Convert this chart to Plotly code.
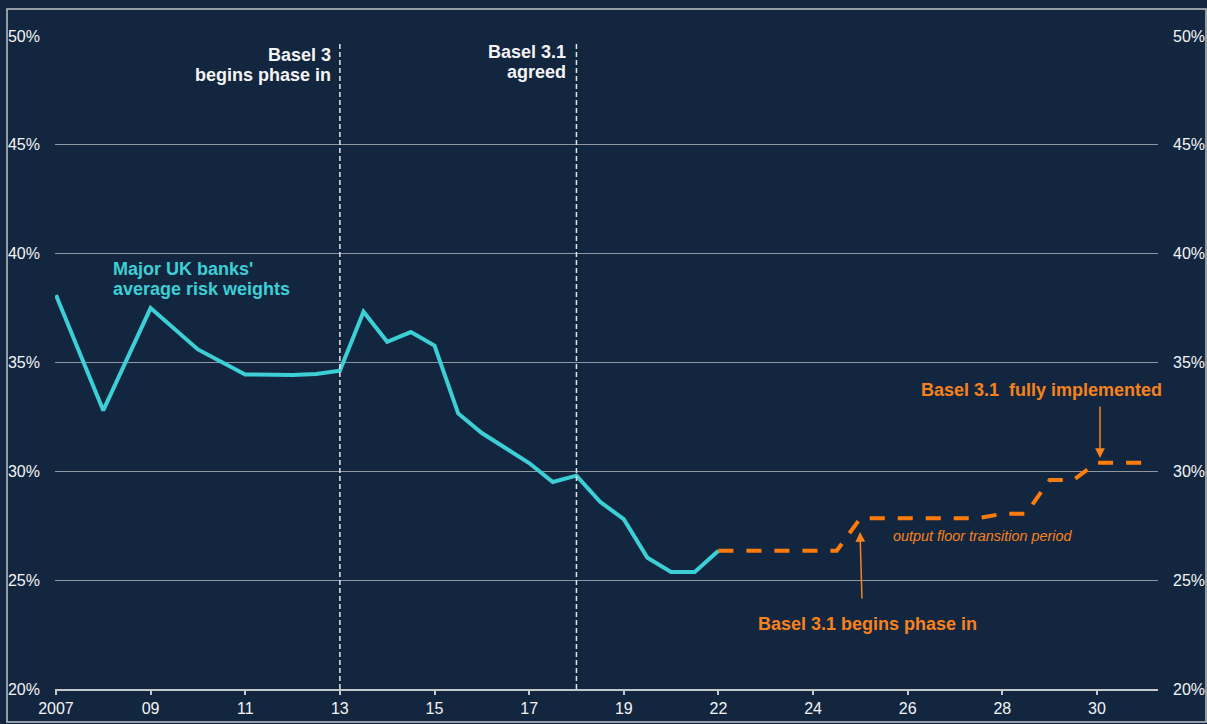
import plotly.graph_objects as go

# ---- data (x in chart-axis years; the axis compresses 2019-2022) ----
tick_vals = [2007, 2009, 2011, 2013, 2015, 2017, 2019, 2021, 2023, 2025, 2027, 2029]
tick_text = ["2007", "09", "11", "13", "15", "17", "19", "22", "24", "26", "28", "30"]

rw_x = [2007, 2008, 2009, 2010, 2011, 2012, 2012.5, 2013, 2013.5, 2014, 2014.5, 2015,
        2015.5, 2016, 2016.5, 2017, 2017.5, 2018, 2018.5, 2019, 2019.5, 2020, 2020.5, 2021]
rw_y = [38.1, 32.8, 37.5, 35.6, 34.45, 34.42, 34.47, 34.62, 37.33, 35.95, 36.4, 35.78,
        32.66, 31.76, 31.07, 30.38, 29.51, 29.8, 28.6, 27.8, 26.03, 25.38, 25.38, 26.35]

proj_x = [2021, 2021.5, 2022, 2022.5, 2023, 2023.5, 2024, 2024.5, 2025, 2025.5, 2026,
          2026.5, 2027, 2027.5, 2028, 2028.5, 2029, 2029.5, 2030]
proj_y = [26.35, 26.35, 26.35, 26.35, 26.35, 26.35, 27.85, 27.85, 27.85, 27.85, 27.85,
          27.85, 28.05, 28.05, 29.6, 29.6, 30.4, 30.4, 30.4]

event_x = [2013, 2018]
y_ticks = [20, 25, 30, 35, 40, 45, 50]
y_text = ["%d%%" % v for v in y_ticks]

BG = "#132640"
CYAN = "#3ccfd5"
ORANGE = "#ff7c0a"
ORANGE_TXT = "#f7821c"
WHITE = "#f4f4f4"
GRID = "#8f98a2"
AXIS = "#c4c8cc"
FONT = "Liberation Sans, Arial, sans-serif"

# layout geometry
W, H = 1207, 724
ML, MR, MT, MB = 55, 49, 36, 35
XR = [2006.98, 2030.29]
YR = [20, 50]
pw = W - ML - MR
ph = H - MT - MB


def dx(px):
    return XR[0] + (px - ML) / pw * (XR[1] - XR[0])


def dy(py):
    return YR[0] + (H - MB - py) / ph * (YR[1] - YR[0])


def paper_x(px):
    return (px - ML) / pw


def paper_y(py):
    return (H - MB - py) / ph


fig = go.Figure()
fig.add_trace(go.Scatter(x=rw_x, y=rw_y, mode="lines",
                         line=dict(color=CYAN, width=4), hoverinfo="skip",
                         showlegend=False))
fig.add_trace(go.Scatter(x=proj_x, y=proj_y, mode="lines",
                         line=dict(color=ORANGE, width=4, dash="15px,13px"),
                         hoverinfo="skip", showlegend=False))
# invisible twin so the right-hand axis is drawn
fig.add_trace(go.Scatter(x=rw_x, y=rw_y, yaxis="y2", mode="lines", opacity=0,
                         line=dict(width=0), hoverinfo="skip", showlegend=False))

shapes = []
for ex in event_x:
    shapes.append(dict(type="line", xref="x", yref="y", x0=ex, x1=ex, y0=YR[0], y1=dy(43),
                       line=dict(color="#e6e6e6", width=1.5, dash="5px,3px"), layer="above"))
# outer frame
shapes.append(dict(type="rect", xref="paper", yref="paper",
                   x0=paper_x(7), x1=paper_x(1206),
                   y0=paper_y(722), y1=paper_y(9),
                   line=dict(color="#c0c4c8", width=1.5), fillcolor="rgba(0,0,0,0)"))

ann = []


def txt(t, px, py, anchor, color, size=18, bold=True, italic=False):
    s = "<b>%s</b>" % t if bold else t
    if italic:
        s = "<i>%s</i>" % s
    ann.append(dict(text=s, x=paper_x(px), y=paper_y(py), xref="paper", yref="paper",
                    xanchor=anchor, yanchor="middle", showarrow=False,
                    font=dict(family=FONT, size=size, color=color)))


txt("Basel 3", 333, 55, "right", WHITE)
txt("begins phase in", 333, 75, "right", WHITE)
txt("Basel 3.1", 568, 52, "right", WHITE)
txt("agreed", 568, 72, "right", WHITE)
txt("Major UK banks'", 111, 269, "left", CYAN)
txt("average risk weights", 111, 289, "left", CYAN)
txt("Basel 3.1&nbsp; fully implemented", 1164, 390, "right", ORANGE_TXT)
txt("Basel 3.1 begins phase in", 756, 624, "left", ORANGE_TXT)
txt("output floor transition period", 891, 536, "left", ORANGE_TXT, size=14.4, bold=False, italic=True)

# arrows
ann.append(dict(text="", x=dx(1100), y=dy(458), xref="x", yref="y", showarrow=True,
                ax=0, ay=-53, arrowhead=2, arrowsize=1.3, arrowwidth=1.5,
                arrowcolor=ORANGE_TXT, standoff=0))
ann.append(dict(text="", x=dx(860), y=dy(532), xref="x", yref="y", showarrow=True,
                ax=2, ay=68, arrowhead=2, arrowsize=1.3, arrowwidth=1.5,
                arrowcolor=ORANGE_TXT, standoff=0))

fig.update_layout(
    width=W, height=H, autosize=False,
    margin=dict(l=ML, r=MR, t=MT, b=MB, pad=0),
    paper_bgcolor=BG, plot_bgcolor=BG,
    font=dict(family=FONT, color=WHITE, size=16),
    shapes=shapes, annotations=ann,
    xaxis=dict(range=XR, tickmode="array", tickvals=tick_vals, ticktext=tick_text,
               showgrid=False, zeroline=False, showline=True, linecolor=AXIS, linewidth=2,
               ticks="outside", ticklen=4, tickwidth=2, tickcolor=AXIS, automargin=False,
               tickfont=dict(family=FONT, size=16, color=WHITE)),
    yaxis=dict(range=YR, tickmode="array", tickvals=y_ticks, ticktext=y_text,
               showgrid=True, gridcolor=GRID, gridwidth=1.2, zeroline=False,
               showline=False, ticks="", ticklabelstandoff=14, automargin=False,
               tickfont=dict(family=FONT, size=16, color=WHITE)),
    yaxis2=dict(range=YR, tickmode="array", tickvals=y_ticks, ticktext=y_text,
                overlaying="y", side="right", anchor="x", showgrid=False, zeroline=False,
                showline=False, ticks="", ticklabelstandoff=14, automargin=False,
                tickfont=dict(family=FONT, size=16, color=WHITE)),
)

fig.write_html("out.html")
